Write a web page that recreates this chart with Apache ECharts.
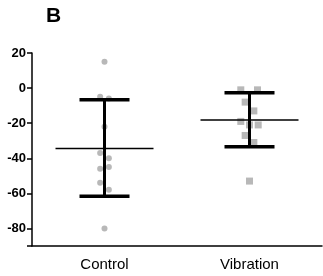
<!DOCTYPE html>
<html>
<head>
<meta charset="utf-8">
<script src="https://cdn.jsdelivr.net/npm/echarts@6/dist/echarts.min.js"></script>
<style>
  html, body { margin: 0; padding: 0; background: #fff; }
  #chart { width: 323px; height: 276px; }
</style>
</head>
<body>
<div id="chart"></div>
<script>
// groups on the x axis
const groups = ["Control", "Vibration"];

// individual values
const controlValues = [15, -5, -6, -22, -37, -40, -46, -45, -54, -58, -80];
const controlJitter = [0, -0.03, 0.03, 0, -0.03, 0.03, -0.03, 0.03, -0.03, 0.03, 0];
const vibrationValues = [-1, -1, -8, -13, -19, -21, -21, -27, -31, -53];
const vibrationJitter = [-0.06, 0.055, -0.03, 0.03, -0.06, 0, 0.06, -0.03, 0.03, 0];

// mean and error bar ends
const means = [-34.4, -18.2];
const lower = [-61.7, -33.4];
const upper = [-6.6, -2.6];

const yTicks = [-80, -60, -40, -20, 0, 20];

const chart = echarts.init(document.getElementById("chart"));

// scatter points: group centre (0.5, 1.5) + small jitter
const ctrlPts = controlValues.map((v, i) => [0.5 + controlJitter[i], v]);
const vibPts = vibrationValues.map((v, i) => [1.5 + vibrationJitter[i], v]);
const barData = groups.map((g, i) => [i + 0.5, means[i], lower[i], upper[i]]);

chart.setOption({
  animation: false,
  title: {
    text: "B",
    left: 41,
    top: 1,
    textStyle: { fontFamily: "Liberation Sans", fontWeight: "bold", fontSize: 21, color: "#000" }
  },
  grid: { left: 32, right: 1, top: 53, bottom: 30 },
  xAxis: [
    {
      type: "category",
      data: groups,
      axisLine: { onZero: false, lineStyle: { color: "#000", width: 1.5 } },
      axisTick: { alignWithLabel: true, length: 5, lineStyle: { color: "#000", width: 1.5 } },
      axisLabel: { color: "#000", fontFamily: "Liberation Sans", fontSize: 15, margin: 11 }
    },
    { type: "value", min: 0, max: 2, show: false }
  ],
  yAxis: {
    type: "value",
    min: -90,
    max: 20,
    splitNumber: 5,
    splitLine: { show: false },
    axisLine: { show: true, lineStyle: { color: "#000", width: 1.5 } },
    axisTick: { show: true, length: 5, lineStyle: { color: "#000", width: 1.5 } },
    axisLabel: {
      color: "#000",
      fontFamily: "Liberation Sans",
      fontWeight: "bold",
      fontSize: 13,
      margin: 6,
      formatter: (v) => (yTicks.indexOf(v) >= 0 ? String(v) : "")
    }
  },
  series: [
    {
      type: "scatter",
      xAxisIndex: 1,
      symbol: "circle",
      symbolSize: 6,
      itemStyle: { color: "#a6a6a6" },
      data: ctrlPts
    },
    {
      type: "scatter",
      xAxisIndex: 1,
      symbol: "rect",
      symbolSize: 7,
      itemStyle: { color: "#a6a6a6" },
      data: vibPts
    },
    {
      type: "custom",
      xAxisIndex: 1,
      data: barData,
      z: 5,
      renderItem: function (params, api) {
        const x = api.value(0);
        const m = api.coord([x, api.value(1)]);
        const lo = api.coord([x, api.value(2)]);
        const hi = api.coord([x, api.value(3)]);
        const capW = 25, meanW = 49;
        return {
          type: "group",
          children: [
            { type: "line", shape: { x1: hi[0], y1: hi[1], x2: lo[0], y2: lo[1] },
              style: { stroke: "#000", lineWidth: 3 } },
            { type: "line", shape: { x1: hi[0] - capW, y1: hi[1], x2: hi[0] + capW, y2: hi[1] },
              style: { stroke: "#000", lineWidth: 3.5 } },
            { type: "line", shape: { x1: lo[0] - capW, y1: lo[1], x2: lo[0] + capW, y2: lo[1] },
              style: { stroke: "#000", lineWidth: 3.5 } },
            { type: "line", shape: { x1: m[0] - meanW, y1: m[1], x2: m[0] + meanW, y2: m[1] },
              style: { stroke: "#000", lineWidth: 1.6 } }
          ]
        };
      }
    }
  ]
});
</script>
</body>
</html>
